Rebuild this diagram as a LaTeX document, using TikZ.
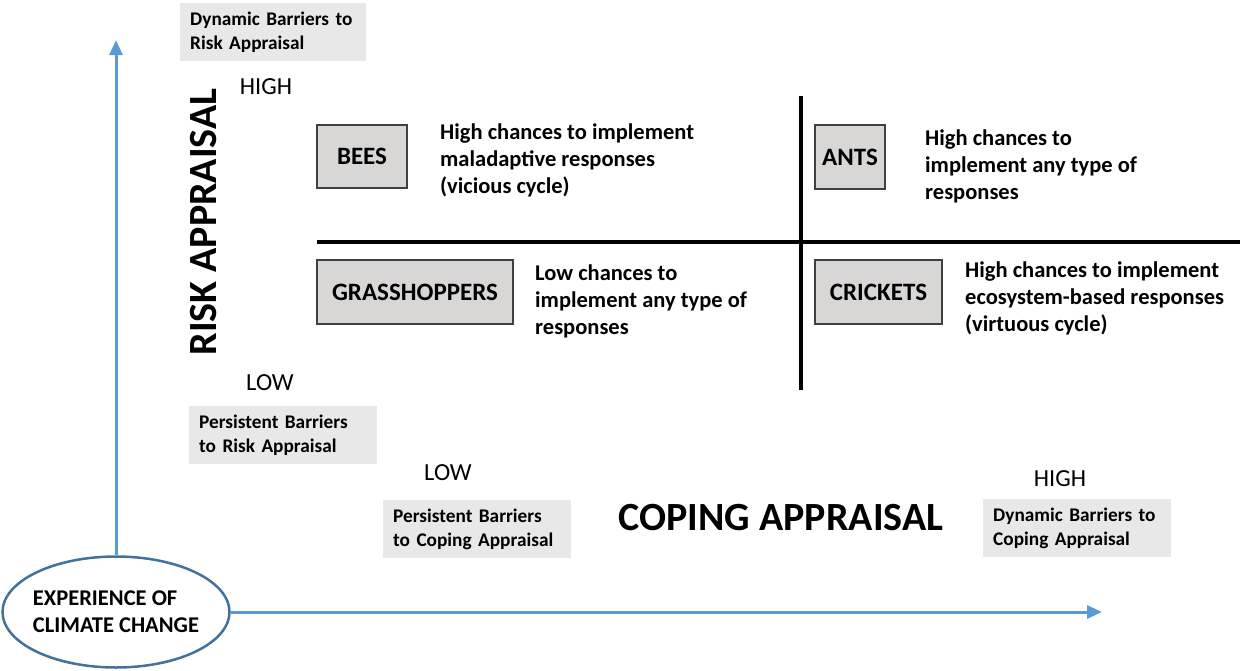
\documentclass[tikz,border=0pt]{standalone}
\usepackage{fontspec}
\setmainfont{Carlito}
\usetikzlibrary{shapes.geometric,arrows.meta}
\definecolor{axisblue}{HTML}{5B9BD5}
\definecolor{ellblue}{HTML}{41719C}
\definecolor{notegray}{HTML}{E8E8E8}
\definecolor{animalfill}{HTML}{D9D6D6}
\definecolor{animaldraw}{HTML}{404040}
\tikzset{
  animal/.style={draw=animaldraw, line width=2pt, fill=animalfill, anchor=north west,
    font=\fontsize{25}{28}\selectfont\bfseries, inner sep=0pt},
  desc/.style={anchor=west, align=left, inner sep=0pt,
    font=\fontsize{22.5}{27}\selectfont\bfseries},
  barrier/.style={fill=notegray, anchor=north west, minimum width=188pt, minimum height=58pt,
    text width=168pt, inner xsep=10pt, inner ysep=0pt, align=left,
    font=\fontsize{19.3}{24}\selectfont\bfseries},
  level/.style={font=\fontsize{24.5}{28}\selectfont, inner sep=0pt},
  axistitle/.style={font=\fontsize{40}{44}\selectfont\bfseries, inner sep=0pt},
  axisarrow/.style={axisblue, line width=3pt, -{Triangle[length=15pt,width=13pt]}},
  divider/.style={black, line width=4pt}
}
\begin{document}
\begin{tikzpicture}[x=1pt,y=-1pt]
\useasboundingbox (0,0) rectangle (1240,670);

% origin: experience of climate change
\node[ellipse, draw=ellblue, line width=2.5pt, fill=white, minimum width=227pt, minimum height=111pt,
  align=left, inner xsep=-5pt, inner ysep=0pt, font=\fontsize{22.5}{27}\selectfont\bfseries] (exp) at (116,612)
  {EXPERIENCE OF\\CLIMATE CHANGE};

% axes
\coordinate (ytip) at (117,40);
\coordinate (xtip) at (1102,615);
\draw[axisarrow] (exp.north) -- (exp.north |- ytip);
\draw[axisarrow] (exp.east) -- (xtip |- exp.east);

% axis titles
\node[axistitle, rotate=90] (risk) at (204,222) {RISK APPRAISAL};
\node[axistitle] (coping) at (781,518) {COPING APPRAISAL};

% levels
\node[level] (rhigh) at (266,87) {HIGH};
\node[level] (rlow) at (270,383) {LOW};
\node[level] (clow) at (448,473) {LOW};
\node[level] (chigh) at (1060,479) {HIGH};

% barrier notes
\node[barrier, minimum width=186pt, text width=166pt] (dynrisk) at (180,3) {Dynamic Barriers to\\Risk Appraisal};
\node[barrier] (perrisk) at (189,406) {Persistent Barriers\\to Risk Appraisal};
\node[barrier] (percop) at (383,500) {Persistent Barriers\\to Coping Appraisal};
\node[barrier] (dyncop) at (983,499) {Dynamic Barriers to\\Coping Appraisal};

% quadrant dividers
\draw[divider] (801,96) -- (801,390);
\draw[divider] (317,242) -- (1240,242);

% quadrants
\node[animal, minimum width=90pt, minimum height=63pt] (bees) at (316,124) {BEES};
\node[desc] (beesd) at (440,160) {High chances to implement\\maladaptive responses\\(vicious cycle)};

\node[animal, minimum width=70pt, minimum height=64pt] (ants) at (814,124) {ANTS};
\node[desc] (antsd) at (925,166) {High chances to\\implement any type of\\responses};

\node[animal, minimum width=196pt, minimum height=64pt] (grass) at (316,259) {GRASSHOPPERS};
\node[desc] (grassd) at (535,301) {Low chances to\\implement any type of\\responses};

\node[animal, minimum width=127pt, minimum height=64pt] (crick) at (814,259) {CRICKETS};
\node[desc] (crickd) at (965,298) {High chances to implement\\ecosystem-based responses\\(virtuous cycle)};
\end{tikzpicture}
\end{document}
